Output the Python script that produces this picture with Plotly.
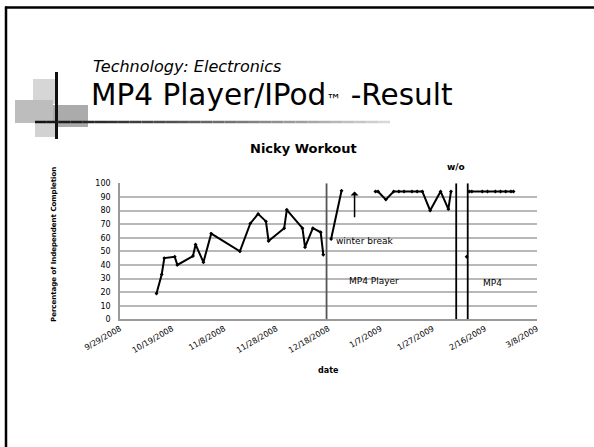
import plotly.graph_objects as go

W, H = 594, 447

# ---------------- data ----------------
baseline_dates = ["2008-10-13", "2008-10-15", "2008-10-16", "2008-10-20", "2008-10-21",
                  "2008-10-27", "2008-10-28", "2008-10-31", "2008-11-03", "2008-11-14",
                  "2008-11-18", "2008-11-21", "2008-11-24", "2008-11-25", "2008-12-01",
                  "2008-12-02", "2008-12-08", "2008-12-09", "2008-12-12", "2008-12-15",
                  "2008-12-16"]
baseline_vals = [19, 33, 45, 46, 40, 46.5, 55, 42, 63, 50, 70.5, 77.5, 72, 57.5, 67,
                 80.5, 67, 53, 67, 64, 47.5]

break_dates = ["2008-12-19", "2008-12-23"]
break_vals = [59, 94.5]

player_dates = ["2009-01-05", "2009-01-06", "2009-01-09", "2009-01-12", "2009-01-14",
                "2009-01-16", "2009-01-19", "2009-01-21", "2009-01-23", "2009-01-26",
                "2009-01-30", "2009-02-02", "2009-02-03"]
player_vals = [94, 94, 88, 94, 94, 94, 94, 94, 94, 80, 94, 81, 94]

wo_dates = ["2009-02-09"]
wo_vals = [46]

mp4_dates = ["2009-02-10", "2009-02-11", "2009-02-15", "2009-02-17", "2009-02-20",
             "2009-02-22", "2009-02-24", "2009-02-26", "2009-02-27"]
mp4_vals = [94, 94, 94, 94, 94, 94, 94, 94, 94]

phase_lines = ["2008-12-17 06:00", "2009-02-05", "2009-02-09 10:00"]
phase_colors = ["#555555", "#000000", "#000000"]

arrow_date = "2008-12-28"
arrow_from, arrow_to = 74, 94

x_range = ["2008-09-29", "2009-03-08"]
x_ticks = ["2008-09-29", "2008-10-19", "2008-11-08", "2008-11-28", "2008-12-18",
           "2009-01-07", "2009-01-27", "2009-02-16", "2009-03-08"]
x_tick_labels = ["9/29/2008", "10/19/2008", "11/8/2008", "11/28/2008", "12/18/2008",
                 "1/7/2009", "1/27/2009", "2/16/2009", "3/8/2009"]
y_ticks = [0, 10, 20, 30, 40, 50, 60, 70, 80, 90, 100]

# ---------------- figure ----------------
FONT = "DejaVu Sans"
fig = go.Figure()

line_style = dict(color="black", width=2)
marker_style = dict(symbol="diamond", size=3, color="black")
for xs, ys in [(baseline_dates, baseline_vals), (break_dates, break_vals),
               (player_dates, player_vals), (wo_dates, wo_vals), (mp4_dates, mp4_vals)]:
    fig.add_trace(go.Scatter(x=xs, y=ys, mode="lines+markers", line=line_style,
                             marker=marker_style, showlegend=False, cliponaxis=False))

# plot-area placement (pixels)
L, R, T, B = 120, 537, 183.3, 319.3
dx = [L / W, R / W]
dy = [1 - B / H, 1 - T / H]

shapes = []
for xv, c in zip(phase_lines, phase_colors):
    shapes.append(dict(type="line", xref="x", yref="y", x0=xv, x1=xv, y0=0, y1=100,
                       line=dict(color=c, width=1.8)))

def px(x):
    return x / W

def py(y):
    return 1 - y / H

# slide border
shapes.append(dict(type="line", xref="paper", yref="paper", x0=px(6), x1=px(6),
                   y0=py(6.5), y1=py(447), line=dict(color="black", width=2.5)))
shapes.append(dict(type="line", xref="paper", yref="paper", x0=px(5), x1=px(594),
                   y0=py(7.5), y1=py(7.5), line=dict(color="black", width=2.5)))

# decorative squares
for (x0, y0, x1, y1, col) in [(33, 79, 56, 104, "#d6d6d6"),
                              (15, 100, 53, 123, "#bdbdbd"),
                              (53, 105, 88, 127, "#ababab"),
                              (35, 122, 56, 137, "#d2d2d2")]:
    shapes.append(dict(type="rect", xref="paper", yref="paper", x0=px(x0), x1=px(x1),
                       y0=py(y1), y1=py(y0), fillcolor=col, line=dict(width=0),
                       layer="below"))
shapes.append(dict(type="line", xref="paper", yref="paper", x0=px(56.5), x1=px(56.5),
                   y0=py(139), y1=py(72), line=dict(color="#111111", width=3)))
# gradient underline
n = 30
x_start, x_end = 35, 390
for i in range(n):
    a = x_start + (x_end - x_start) * i / n
    b = x_start + (x_end - x_start) * (i + 1) / n
    g = int(20 + (215 - 20) * (i / (n - 1)) ** 1.2)
    shapes.append(dict(type="line", xref="paper", yref="paper", x0=px(a), x1=px(b),
                       y0=py(122), y1=py(122),
                       line=dict(color=f"rgb({g},{g},{g})", width=2.5)))

annotations = [
    dict(x=arrow_date, y=arrow_to, ax=arrow_date, ay=arrow_from, xref="x", yref="y",
         axref="x", ayref="y", showarrow=True, arrowhead=1, arrowsize=0.9,
         arrowwidth=1.5, arrowcolor="black", text=""),
    dict(x="2008-12-20", y=57.8, xref="x", yref="y", text="winter break",
         showarrow=False, xanchor="left", yanchor="middle",
         font=dict(family=FONT, size=9, color="black")),
    dict(x="2008-12-25", y=28.4, xref="x", yref="y", text="MP4 Player",
         showarrow=False, xanchor="left", yanchor="middle",
         font=dict(family=FONT, size=9, color="black")),
    dict(x="2009-02-14 12:00", y=27, xref="x", yref="y", text="MP4",
         showarrow=False, xanchor="left", yanchor="middle",
         font=dict(family=FONT, size=9, color="black")),
    dict(x=px(455.5), y=py(167), xref="paper", yref="paper", text="<b>w/o</b>",
         showarrow=False, xanchor="center", yanchor="middle",
         font=dict(family=FONT, size=9, color="black")),
    dict(x=px(91), y=py(66), xref="paper", yref="paper", text="<i>Technology: Electronics</i>",
         showarrow=False, xanchor="left", yanchor="middle",
         font=dict(family=FONT, size=16, color="black")),
    dict(x=px(89), y=py(95), xref="paper", yref="paper",
         text="MP4 Player/IPod<span style='font-size:15px'>™</span> -Result",
         showarrow=False, xanchor="left", yanchor="middle",
         font=dict(family=FONT, size=29.5, color="black")),
    dict(x=px(303), y=py(148), xref="paper", yref="paper", text="<b>Nicky Workout</b>",
         showarrow=False, xanchor="center", yanchor="middle",
         font=dict(family=FONT, size=13, color="black")),
    dict(x=px(54), y=py(245), xref="paper", yref="paper",
         text="<b>Percentage of Independent Completion</b>", textangle=-90,
         showarrow=False, xanchor="center", yanchor="middle",
         font=dict(family=FONT, size=7, color="black")),
    dict(x=px(328), y=py(370), xref="paper", yref="paper", text="<b>date</b>",
         showarrow=False, xanchor="center", yanchor="middle",
         font=dict(family=FONT, size=8, color="black")),
]

fig.update_layout(
    width=W, height=H,
    margin=dict(l=0, r=0, t=0, b=0),
    paper_bgcolor="white", plot_bgcolor="white",
    showlegend=False,
    shapes=shapes,
    annotations=annotations,
    xaxis=dict(domain=dx, type="date", range=x_range, tickmode="array",
               tickvals=x_ticks, ticktext=x_tick_labels, tickangle=-30,
               tickfont=dict(family=FONT, size=8, color="black"),
               showgrid=False, zeroline=False, showline=True, linecolor="#9a9a9a",
               linewidth=1.5, ticks="", automargin=False),
    yaxis=dict(domain=dy, range=[0, 100], tickmode="array", tickvals=y_ticks,
               tickfont=dict(family=FONT, size=8, color="black"),
               showgrid=True, gridcolor="#b8b8b8", gridwidth=1.5, zeroline=False,
               showline=True, linecolor="#9a9a9a", linewidth=1.5, ticks="",
               ticklabelstandoff=6, automargin=False),
)

fig.write_html("out.html", config={"displayModeBar": False},
               post_script="document.body.style.margin='0px';")
